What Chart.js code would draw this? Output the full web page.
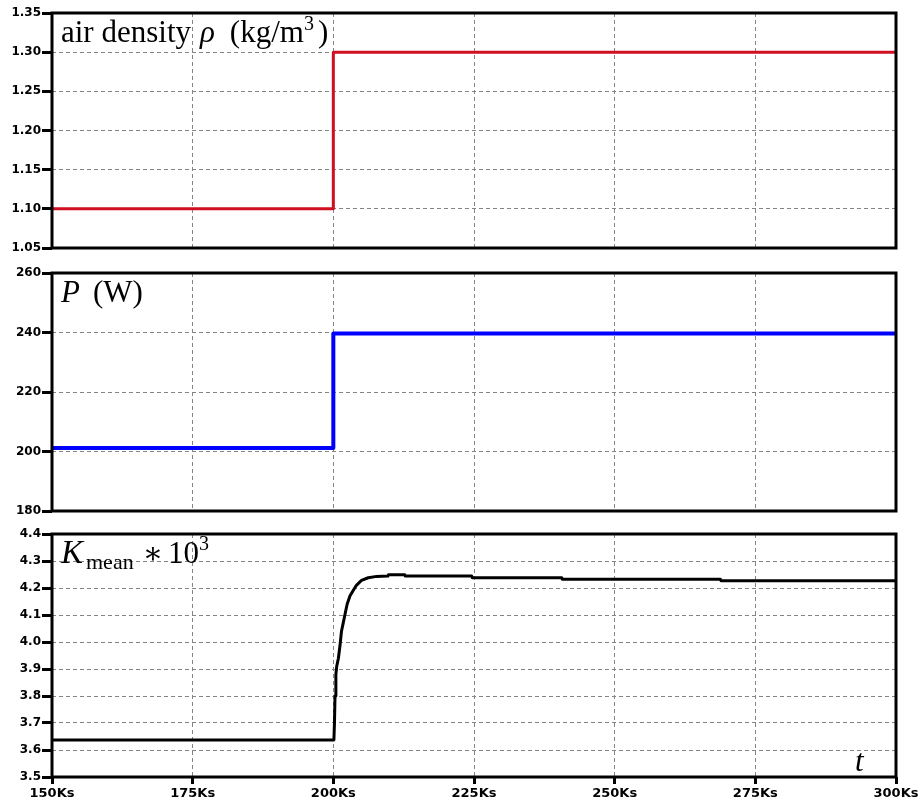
<!DOCTYPE html>
<html>
<head>
<meta charset="utf-8">
<title>Air density step response</title>
<script src="https://cdn.jsdelivr.net/npm/chart.js@4/dist/chart.umd.min.js"></script>
<style>
  html, body { margin: 0; padding: 0; background: #fff; }
  #wrap { position: relative; width: 921px; height: 807px; }
  .panel { position: absolute; left: 0; width: 921px; }
</style>
</head>
<body>
<div id="wrap">
  <div class="panel" style="top:0px;height:260px"><canvas id="rho" width="921" height="260"></canvas></div>
  <div class="panel" style="top:260px;height:262px"><canvas id="power" width="921" height="262"></canvas></div>
  <div class="panel" style="top:522px;height:285px"><canvas id="kmean" width="921" height="285"></canvas></div>
</div>
<script>
// Shared time axis (kiloseconds)
const timeTicks = [150, 175, 200, 225, 250, 275, 300];

// Air density (kg/m^3)
const rhoTime   = [150, 200, 200, 300];
const rhoValues = [1.10, 1.10, 1.30, 1.30];
const rhoTicks  = [1.05, 1.10, 1.15, 1.20, 1.25, 1.30, 1.35];

// Output power (W)
const powerTime   = [150, 200, 200, 300];
const powerValues = [201.2, 201.2, 239.7, 239.7];
const powerTicks  = [180, 200, 220, 240, 260];

// Mean gain K_mean * 10^3
const kTime = [150, 200.1, 200.2, 200.3, 200.45, 200.6, 200.9, 201.2, 201.45, 201.75,
               202.05, 202.45, 202.95, 203.5, 204.1, 205.0, 206.2, 207.7, 209.7, 209.8,
               212.7, 212.8, 224.6, 224.7, 240.6, 240.7, 268.8, 268.9, 300];
const kValues = [3.637, 3.637, 3.70, 3.80, 3.88, 3.91, 3.94, 3.99, 4.04, 4.07,
                 4.10, 4.14, 4.17, 4.19, 4.21, 4.228, 4.238, 4.243, 4.244, 4.249,
                 4.249, 4.244, 4.244, 4.238, 4.238, 4.232, 4.232, 4.227, 4.227];
const kTicks = [3.5, 3.6, 3.7, 3.8, 3.9, 4.0, 4.1, 4.2, 4.3, 4.4];

Chart.defaults.font.family = '"DejaVu Sans", sans-serif';
Chart.defaults.font.weight = 'bold';
Chart.defaults.font.size = 12;
Chart.defaults.color = '#000';

const SERIF = '"Liberation Serif", "DejaVu Serif", serif';

// Draws a sequence of text runs (style, size, vertical offset) on one baseline
function drawRuns(ctx, x, y, runs) {
  ctx.save();
  ctx.fillStyle = '#000';
  ctx.textBaseline = 'alphabetic';
  ctx.textAlign = 'left';
  for (const r of runs) {
    ctx.font = `${r.italic ? 'italic ' : ''}${r.size}px ${SERIF}`;
    ctx.fillText(r.t, x, y + (r.dy || 0));
    x += ctx.measureText(r.t).width + (r.gap || 0);
  }
  ctx.restore();
}

// Frame around the plot area plus the panel caption
const framePlugin = {
  id: 'frame',
  afterDraw(chart, args, opts) {
    const { ctx, chartArea: a } = chart;
    ctx.save();
    ctx.strokeStyle = '#000';
    ctx.lineWidth = 3;
    ctx.setLineDash([]);
    ctx.strokeRect(a.left, a.top, a.right - a.left, a.bottom - a.top);
    ctx.restore();
    if (opts.caption) drawRuns(ctx, a.left + 9, a.top + 29, opts.caption);
    if (opts.corner) drawRuns(ctx, a.right - 41, a.bottom - 6, opts.corner);
  }
};

function makeChart(id, cfg) {
  const pts = cfg.time.map((t, i) => ({ x: t, y: cfg.values[i] }));
  return new Chart(document.getElementById(id), {
    type: 'line',
    data: {
      datasets: [{
        data: pts,
        borderColor: cfg.color,
        borderWidth: cfg.width || 3,
        pointRadius: 0,
        tension: 0,
        fill: false,
        borderJoinStyle: 'round',
        borderCapStyle: 'round'
      }]
    },
    plugins: [framePlugin],
    options: {
      responsive: false,
      animation: false,
      layout: { padding: { top: cfg.padTop, right: 25, left: 0, bottom: 0 } },
      plugins: {
        legend: { display: false },
        tooltip: { enabled: false },
        frame: { caption: cfg.caption, corner: cfg.corner }
      },
      scales: {
        x: {
          type: 'linear',
          min: 150,
          max: 300,
          afterBuildTicks: s => { s.ticks = timeTicks.map(v => ({ value: v })); },
          afterFit: s => { s.height = cfg.xHeight; },
          ticks: {
            display: !!cfg.showX,
            padding: 2,
            maxRotation: 0,
            autoSkip: false,
            font: { size: 13, weight: 'bold' },
            callback: v => v + 'Ks'
          },
          border: { display: false, dash: [4, 3] },
          grid: {
            color: '#858585',
            lineWidth: 1,
            drawTicks: !!cfg.showX,
            tickLength: 7,
            tickColor: '#000',
            tickWidth: 3,
            tickBorderDash: []
          }
        },
        y: {
          type: 'linear',
          min: cfg.ticks[0],
          max: cfg.ticks[cfg.ticks.length - 1],
          afterBuildTicks: s => { s.ticks = cfg.ticks.map(v => ({ value: v })); },
          afterFit: s => { s.width = 52; },
          ticks: {
            padding: 1,
            autoSkip: false,
            font: { size: 12, weight: 'bold' },
            callback: v => v.toFixed(cfg.decimals)
          },
          border: { display: false, dash: [4, 3] },
          grid: {
            color: '#858585',
            lineWidth: 1,
            drawTicks: true,
            tickLength: 10,
            tickColor: '#000',
            tickWidth: 3,
            tickBorderDash: []
          }
        }
      }
    }
  });
}

makeChart('rho', {
  time: rhoTime, values: rhoValues, ticks: rhoTicks, decimals: 2,
  color: '#d01020', padTop: 13, xHeight: 12,
  caption: [
    { t: 'air density', size: 31, gap: 9 },
    { t: 'ρ', size: 31, italic: true, gap: 15 },
    { t: '(kg/m', size: 31 },
    { t: '3', size: 20, dy: -12, gap: 4 },
    { t: ')', size: 31 }
  ]
});

makeChart('power', {
  time: powerTime, values: powerValues, ticks: powerTicks, decimals: 0,
  color: '#0000ff', width: 4, padTop: 13, xHeight: 11,
  caption: [
    { t: 'P', size: 31, italic: true, gap: 13 },
    { t: '(W)', size: 31 }
  ]
});

makeChart('kmean', {
  time: kTime, values: kValues, ticks: kTicks, decimals: 1,
  color: '#000000', padTop: 12, xHeight: 30, showX: true,
  caption: [
    { t: 'K', size: 33, italic: true, gap: 3 },
    { t: 'mean', size: 22, dy: 6, gap: 9 },
    { t: '∗', size: 30, gap: 5 },
    { t: '10', size: 31 },
    { t: '3', size: 20, dy: -13 }
  ],
  corner: [{ t: 't', size: 31, italic: true }]
});
</script>
</body>
</html>
